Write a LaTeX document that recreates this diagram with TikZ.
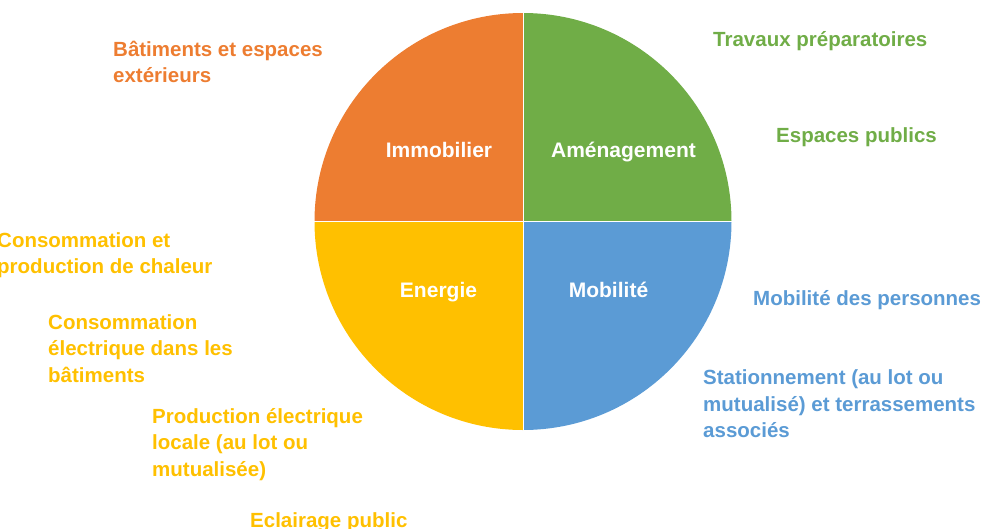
\documentclass[tikz,border=0pt]{standalone}
\usepackage{fontspec}
\setmainfont{Liberation Sans}
\definecolor{ImmoClr}{RGB}{237,125,49}
\definecolor{AmenClr}{RGB}{112,173,71}
\definecolor{EnerClr}{RGB}{255,192,0}
\definecolor{MobClr}{RGB}{91,155,213}

\begin{document}
\begin{tikzpicture}[x=1pt,y=-1pt,
  lbl/.style={anchor=base west,align=left,inner sep=0pt,
    font=\fontsize{20.5}{26.3}\selectfont\bfseries},
  sect/.style={anchor=base,inner sep=0pt,text=white,
    font=\fontsize{21}{26}\selectfont\bfseries}]
\useasboundingbox (0,0) rectangle (983,528);

\coordinate (O) at (523,221.5);

% quarters of the disc (y axis points down)
\fill[ImmoClr] (O) -- ++(-208.5,0) arc[start angle=180,end angle=270,radius=208.5] -- cycle;
\fill[AmenClr] (O) -- ++(0,-208.5) arc[start angle=270,end angle=360,radius=208.5] -- cycle;
\fill[EnerClr] (O) -- ++(-208.5,0) arc[start angle=180,end angle=90,radius=208.5] -- cycle;
\fill[MobClr] (O) -- ++(208.5,0) arc[start angle=0,end angle=90,radius=208.5] -- cycle;
\draw[white,line width=1pt] (O) -- ++(0,-209) (O) -- ++(0,209) (O) -- ++(-209,0) (O) -- ++(209,0);

\node[sect] (immo) at (439,157) {Immobilier};
\node[sect] (amen) at (623.5,157) {Aménagement};
\node[sect] (ener) at (438.5,297) {Energie};
\node[sect] (mob) at (608.5,297) {Mobilité};

% labels: the base anchor sits on the last line
\node[lbl,text=ImmoClr] (bat) at (113,82.5) {Bâtiments et espaces\\extérieurs};

\node[lbl,text=AmenClr] (trav) at (713,46) {Travaux préparatoires};
\node[lbl,text=AmenClr] (esp) at (776,142) {Espaces publics};

\node[lbl,text=EnerClr] (chal) at (-3,273.5) {Consommation et\\production de chaleur};
\node[lbl,text=EnerClr] (elec) at (48,382) {Consommation\\électrique dans les\\bâtiments};
\node[lbl,text=EnerClr] (prod) at (152,476) {Production électrique\\locale (au lot ou\\mutualisée)};
\node[lbl,text=EnerClr] (ecl) at (250,527) {Eclairage public};

\node[lbl,text=MobClr] (pers) at (753,305) {Mobilité des personnes};
\node[lbl,text=MobClr] (stat) at (703,437.5) {Stationnement (au lot ou\\mutualisé) et terrassements\\associés};

\end{tikzpicture}
\end{document}
